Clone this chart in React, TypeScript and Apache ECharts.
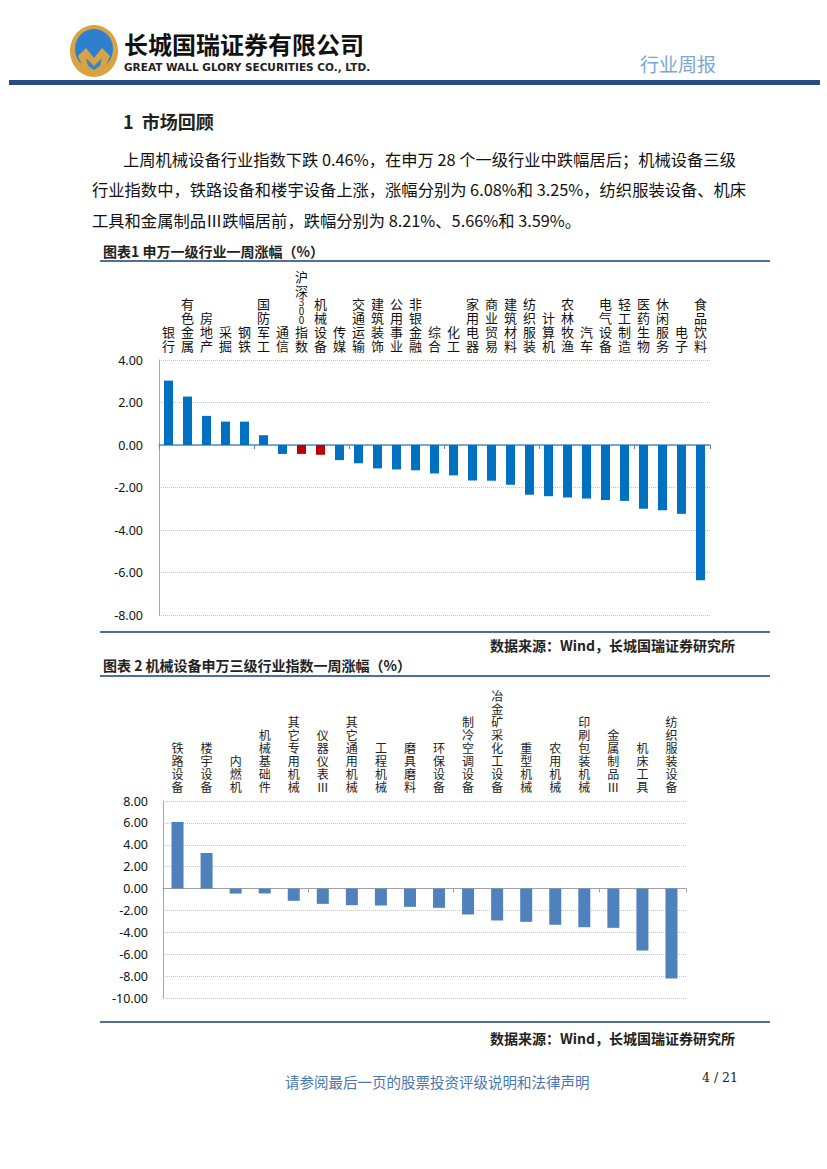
import React, { useEffect, useRef } from "react";
import * as echarts from "echarts";

const industries = [
  "银行", "有色金属", "房地产", "采掘", "钢铁", "国防军工", "通信", "沪深300指数", "机械设备",
  "传媒", "交通运输", "建筑装饰", "公用事业", "非银金融", "综合", "化工", "家用电器", "商业贸易",
  "建筑材料", "纺织服装", "计算机", "农林牧渔", "汽车", "电气设备", "轻工制造", "医药生物",
  "休闲服务", "电子", "食品饮料",
];
const industryChange = [
  3.03, 2.28, 1.37, 1.1, 1.1, 0.46, -0.42, -0.42, -0.46,
  -0.71, -0.86, -1.1, -1.15, -1.19, -1.34, -1.43, -1.67, -1.68,
  -1.87, -2.34, -2.41, -2.47, -2.52, -2.59, -2.63, -3.0,
  -3.07, -3.24, -6.37,
];
const highlighted = ["沪深300指数", "机械设备"];

const subIndustries = [
  "铁路设备", "楼宇设备", "内燃机", "机械基础件", "其它专用机械", "仪器仪表Ⅲ", "其它通用机械",
  "工程机械", "磨具磨料", "环保设备", "制冷空调设备", "冶金矿采化工设备", "重型机械", "农用机械",
  "印刷包装机械", "金属制品Ⅲ", "机床工具", "纺织服装设备",
];
const subChange = [
  6.08, 3.25, -0.46, -0.45, -1.12, -1.4, -1.52,
  -1.55, -1.67, -1.76, -2.37, -2.92, -3.04, -3.31,
  -3.53, -3.59, -5.66, -8.21,
];

const y1Range = { min: -8, max: 4, step: 2 };
const y2Range = { min: -10, max: 8, step: 2 };

const paragraphLines = [
  "上周机械设备行业指数下跌 0.46%，在申万 28 个一级行业中跌幅居后；机械设备三级",
  "行业指数中，铁路设备和楼宇设备上涨，涨幅分别为 6.08%和 3.25%，纺织服装设备、机床",
  "工具和金属制品Ⅲ跌幅居前，跌幅分别为 8.21%、5.66%和 3.59%。",
];

const CJK = "'Noto Sans CJK SC', 'Noto Sans', sans-serif";

// one character per line; digits are stacked in a smaller style
function verticalLabel(name: string): string {
  const parts = name.match(/\d+|./g) || [];
  return parts
    .map((p) => (/^\d+$/.test(p) ? p.split("").map((c) => `{d|${c}}`).join("\n") : p))
    .join("\n");
}

export default function App() {
  const ref = useRef<HTMLDivElement>(null);
  useEffect(() => {
    document.body.style.margin = "0";
    const chart = echarts.init(ref.current!, null, { renderer: "svg" });

    const graphic: any[] = [
      // logo
      { type: "ellipse", shape: { cx: 94, cy: 51, rx: 24, ry: 26 }, style: { fill: "#d7a343" } },
      { type: "ellipse", shape: { cx: 94, cy: 49, rx: 19, ry: 20 }, style: { fill: "#2f7fd0" } },
      { type: "polygon", shape: { points: [[78, 56], [86, 48], [94, 58], [102, 48], [110, 56], [104, 70], [94, 74], [84, 70]] }, style: { fill: "#d7a343" } },
      { type: "polygon", shape: { points: [[86, 58], [94, 66], [102, 58], [100, 66], [94, 70], [88, 66]] }, style: { fill: "#3a84c9" } },
      { type: "text", x: 124, y: 43, style: { text: "长城国瑞证券有限公司", font: `bold 24px ${CJK}`, fill: "#111", textVerticalAlign: "middle" } },
      { type: "text", x: 124, y: 67, style: { text: "GREAT WALL GLORY SECURITIES CO., LTD.", font: "bold 10.5px 'DejaVu Sans', sans-serif", fill: "#222", textVerticalAlign: "middle" } },
      { type: "text", x: 640, y: 63, style: { text: "行业周报", font: `19px ${CJK}`, fill: "#7ba6d9", textVerticalAlign: "middle" } },
      { type: "rect", shape: { x: 9, y: 80, width: 811, height: 5 }, style: { fill: "#254c84" } },
      // section
      { type: "text", x: 123, y: 121, style: { text: "1  市场回顾", font: `bold 18px ${CJK}`, fill: "#222", textVerticalAlign: "middle" } },
      { type: "text", x: 123, y: 159, style: { text: paragraphLines[0], font: `16.3px ${CJK}`, fill: "#111", textVerticalAlign: "middle" } },
      { type: "text", x: 92, y: 189, style: { text: paragraphLines[1], font: `16.3px ${CJK}`, fill: "#111", textVerticalAlign: "middle" } },
      { type: "text", x: 92, y: 220, style: { text: paragraphLines[2], font: `16.3px ${CJK}`, fill: "#111", textVerticalAlign: "middle" } },
      // chart 1 frame
      { type: "text", x: 103, y: 251, style: { text: "图表1 申万一级行业一周涨幅（%）", font: `bold 14px ${CJK}`, fill: "#222", textVerticalAlign: "middle" } },
      { type: "rect", shape: { x: 100, y: 260, width: 670, height: 2 }, style: { fill: "#4f6f9a" } },
      { type: "rect", shape: { x: 100, y: 631, width: 670, height: 2 }, style: { fill: "#4f6f9a" } },
      { type: "text", x: 735, y: 645, style: { text: "数据来源：Wind，长城国瑞证券研究所", font: `bold 14px ${CJK}`, fill: "#222", textAlign: "right", textVerticalAlign: "middle" } },
      // chart 2 frame
      { type: "text", x: 103, y: 665, style: { text: "图表 2 机械设备申万三级行业指数一周涨幅（%）", font: `bold 14px ${CJK}`, fill: "#222", textVerticalAlign: "middle" } },
      { type: "rect", shape: { x: 100, y: 675, width: 670, height: 2 }, style: { fill: "#4f6f9a" } },
      { type: "rect", shape: { x: 100, y: 1021, width: 670, height: 2 }, style: { fill: "#4f6f9a" } },
      { type: "text", x: 735, y: 1038, style: { text: "数据来源：Wind，长城国瑞证券研究所", font: `bold 14px ${CJK}`, fill: "#222", textAlign: "right", textVerticalAlign: "middle" } },
      // footer
      { type: "text", x: 285, y: 1081, style: { text: "请参阅最后一页的股票投资评级说明和法律声明", font: `14.5px ${CJK}`, fill: "#4a76b5", textVerticalAlign: "middle" } },
      { type: "text", x: 738, y: 1077, style: { text: "4 / 21", font: "12.5px 'DejaVu Serif', serif", fill: "#222", textAlign: "right", textVerticalAlign: "middle" } },
    ];

    const yAxisCommon = (gridIndex: number, r: { min: number; max: number; step: number }, margin: number) => ({
      type: "value",
      gridIndex,
      min: r.min,
      max: r.max,
      interval: r.step,
      axisLine: { show: true, lineStyle: { color: "#a6a6a6", width: 1 } },
      axisTick: { show: false },
      axisLabel: { formatter: (v: number) => v.toFixed(2), color: "#111", fontSize: 12.5, margin, fontFamily: "'Noto Sans', sans-serif" },
      splitLine: { show: true, lineStyle: { color: "#c4c4c4", type: "dotted", width: 1 } },
    });

    const option: any = {
      animation: false,
      backgroundColor: "#ffffff",
      graphic,
      grid: [
        { left: 159, top: 360, width: 551, height: 255 },
        { left: 163, top: 801, width: 523, height: 197 },
      ],
      xAxis: [
        {
          type: "category", gridIndex: 0, data: industries, position: "bottom",
          axisLine: { show: true, onZero: true, lineStyle: { color: "#4f8fcf", width: 1.5 } },
          axisTick: { show: true, length: 4, lineStyle: { color: "#4f8fcf" } },
          axisLabel: { show: false },
        },
        {
          type: "category", gridIndex: 0, data: industries, position: "top",
          axisLine: { show: false, onZero: false },
          axisTick: { show: false },
          axisLabel: {
            show: true, interval: 0, margin: 8, formatter: verticalLabel, color: "#111",
            fontSize: 13, lineHeight: 14, fontFamily: CJK,
            rich: { d: { fontSize: 10, lineHeight: 9, fontFamily: CJK, color: "#111" } },
          },
        },
        {
          type: "category", gridIndex: 1, data: subIndustries, position: "bottom",
          axisLine: { show: true, onZero: true, lineStyle: { color: "#a0a0a0", width: 1 } },
          axisTick: { show: true, length: 4, lineStyle: { color: "#a0a0a0" } },
          axisLabel: { show: false },
        },
        {
          type: "category", gridIndex: 1, data: subIndustries, position: "top",
          axisLine: { show: false, onZero: false },
          axisTick: { show: false },
          axisLabel: {
            show: true, interval: 0, margin: 8, formatter: verticalLabel, color: "#222",
            fontSize: 12, lineHeight: 13, fontFamily: CJK,
          },
        },
      ],
      yAxis: [yAxisCommon(0, y1Range, 16), yAxisCommon(1, y2Range, 15)],
      series: [
        {
          type: "bar", xAxisIndex: 0, yAxisIndex: 0, barWidth: 9,
          data: industryChange.map((v, i) => ({
            value: v,
            itemStyle: { color: highlighted.includes(industries[i]) ? "#c00000" : "#0070c0" },
          })),
        },
        {
          type: "bar", xAxisIndex: 2, yAxisIndex: 1, barWidth: 12,
          itemStyle: { color: "#4f81bd" },
          data: subChange,
        },
      ],
    };
    chart.setOption(option);
    return () => chart.dispose();
  }, []);
  return <div ref={ref} style={{ width: 827, height: 1169 }} />;
}
